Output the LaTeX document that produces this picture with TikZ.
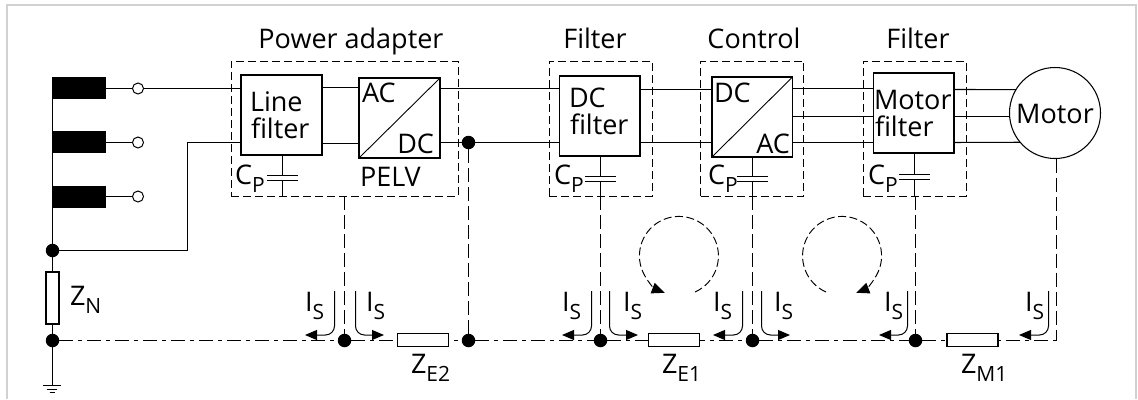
\documentclass[tikz,border=0pt]{standalone}
\usepackage{fontspec}
\setmainfont{Open Sans}
\usetikzlibrary{arrows.meta,calc}
\newcommand\Sb[1]{\raisebox{-8.5pt}{\fontsize{21}{21}\selectfont #1}}
\tikzset{
  wire/.style={line width=1.05pt,draw=black},
  thin wire/.style={line width=.9pt},
  boxn/.style={draw=black,line width=1.05pt,fill=white,inner sep=0pt,outer sep=0pt},
  group/.style={draw=black,line width=.95pt,dash pattern=on 8pt off 4pt},
  gndline/.style={draw=black,line width=1pt,dash pattern=on 14pt off 5pt on 4pt off 5pt},
  pe/.style={draw=black,line width=1pt,dash pattern=on 14pt off 5pt},
  loopline/.style={draw=black,line width=.95pt,dash pattern=on 8pt off 3.5pt},
  txt/.style={inner sep=0pt,outer sep=0pt,font=\fontsize{27}{27}\selectfont,text=black},
  dotn/.style={circle,fill=black,inner sep=0pt,minimum size=13.5pt},
  term/.style={circle,draw=black,fill=white,line width=1pt,inner sep=0pt,minimum size=11pt},
  bar/.style={fill=black,inner sep=0pt,minimum width=54pt,minimum height=22pt},
  res/.style={boxn,minimum width=51pt,minimum height=13pt},
  plate/.style={draw=black,line width=1.05pt},
  cur/.style={draw=black,line width=1pt,-{Triangle[length=12pt,width=10pt]},rounded corners=9pt},
  looparrow/.style={loopline,-{Triangle[length=13pt,width=11pt]}},
}
\begin{document}
\begin{tikzpicture}[x=1pt,y=-1pt]
\useasboundingbox (0,0) rectangle (1138,399);
\fill[white] (0,0) rectangle (1138,399);
\draw[black!18,line width=1.2pt] (7,399) -- (7,5) -- (1136,5) -- (1136,399);

% group frames
\node[group,draw,minimum width=227pt,minimum height=135pt,inner sep=0pt] (gpa) at (344.5,128.5) {};
\node[group,draw,minimum width=103pt,minimum height=135pt,inner sep=0pt] (gdc) at (600.5,128.5) {};
\node[group,draw,minimum width=103pt,minimum height=135pt,inner sep=0pt] (gct) at (752,128.5) {};
\node[group,draw,minimum width=103pt,minimum height=135pt,inner sep=0pt] (gmf) at (914.5,128.5) {};

% sources
\node[bar] (b1) at (79,88) {};
\node[bar] (b2) at (79,142) {};
\node[bar] (b3) at (79,196.5) {};
\node[term] (t1) at (138,88.5) {};
\node[term] (t2) at (138,142.5) {};
\node[term] (t3) at (138,196.5) {};
\coordinate (stemtop) at (52.5,77);
\node[dotn] (nstar) at (52.5,250.5) {};
\node[dotn] (ngn) at (52.5,340.5) {};
\node[res,minimum width=13pt,minimum height=52pt] (zn) at (52.5,298) {};
\coordinate (gnd) at (52.5,385);
\coordinate (corner) at (187.5,250.5);

% blocks
\node[boxn,minimum width=81pt,minimum height=80pt] (lf) at (281.5,115) {};
\node[boxn,minimum width=81pt,minimum height=80pt] (cv) at (399.5,118) {};
\node[boxn,minimum width=80.5pt,minimum height=80pt] (df) at (599.75,116) {};
\node[boxn,minimum width=80.5pt,minimum height=80pt] (ct) at (752.25,117) {};
\node[boxn,minimum width=80.5pt,minimum height=80pt] (mf) at (913.75,113) {};
\node[boxn,circle,minimum size=91pt] (mo) at (1055,113) {};
\draw[thin wire] (cv.south west) -- (cv.north east);
\draw[thin wire] (ct.south west) -- (ct.north east);

% wires
\draw[wire] (stemtop) -- (nstar) -- (zn.north);
\draw[wire] (zn.south) -- (ngn) -- (gnd);
\draw[wire] (b1.east |- t1) -- (t1);
\draw[wire] (b2.east |- t2) -- (t2);
\draw[wire] (b3.east |- t3) -- (t3);
\draw[wire] (t1) -- (lf.west |- t1);
\draw[wire] (nstar) -- (corner) |- (lf.west |- t2);
\draw[wire] (lf.east |- 0,87.5) -- (cv.west |- 0,87.5);
\draw[wire] (lf.east |- 0,143.5) -- (cv.west |- 0,143.5);
\draw[wire] (cv.east |- 0,88.5) -- (df.west |- 0,88.5);
\draw[wire] (cv.east |- 0,142.5) -- (df.west |- 0,142.5);
\draw[wire] (df.east |- 0,89.5) -- (ct.west |- 0,89.5);
\draw[wire] (df.east |- 0,142.5) -- (ct.west |- 0,142.5);
\draw[wire] (ct.east |- 0,88.5) -- (mf.west |- 0,88.5);
\draw[wire] (ct.east |- 0,116.5) -- (mf.west |- 0,116.5);
\draw[wire] (ct.east |- 0,142.5) -- (mf.west |- 0,142.5);
\draw[wire] (mf.east |- 0,89.5) -- (mo.149);
\draw[wire] (mf.east |- 0,116.5) -- (mo.west |- 0,116.5);
\draw[wire] (mf.east |- 0,142.5) -- (mo.220.8);

% capacitors
\coordinate (c1a) at (282.5,175.5); \coordinate (c1b) at (282.5,180.5);
\coordinate (c2a) at (600.5,176.5); \coordinate (c2b) at (600.5,181.5);
\coordinate (c3a) at (752.5,176.5); \coordinate (c3b) at (752.5,181.5);
\coordinate (c4a) at (914.5,174.5); \coordinate (c4b) at (914.5,179.5);
\draw[wire] (lf.south -| c1a) -- (c1a) (c1b) -- (282.5,196);
\draw[wire] (df.south -| c2a) -- (c2a) (c2b) -- (600.5,196);
\draw[wire] (ct.south -| c3a) -- (c3a) (c3b) -- (752.5,196);
\draw[wire] (mf.south -| c4a) -- (c4a) (c4b) -- (914.5,196);
\foreach \p in {c1a,c1b,c2a,c2b,c3a,c3b,c4a,c4b}
  \draw[plate] ($(\p)+(-15.5,0)$) -- ($(\p)+(15.5,0)$);

% ground rail and impedances
\node[dotn] (n1) at (344.5,340.5) {};
\node[dotn] (n2) at (468.5,340.5) {};
\node[dotn] (ndc) at (468.5,142.5) {};
\node[dotn] (n3) at (600.5,340.5) {};
\node[dotn] (n4) at (752.5,340.5) {};
\node[dotn] (n5) at (915.5,340.5) {};
\coordinate (n6) at (1056.5,340.5);
\draw[gndline] (ngn) -- (n1);
\draw[gndline] (n1) -- (n2);
\draw[gndline] (n2) -- (n3);
\draw[gndline] (n3) -- (n4);
\draw[gndline] (n4) -- (n5);
\draw[gndline] (n5) -- (n6);
\draw[pe] (344.5,196) -- (n1);
\draw[pe] (ndc) -- (n2);
\draw[pe] (600.5,196) -- (n3);
\draw[pe] (752.5,196) -- (n4);
\draw[pe] (915.5,196) -- (n5);
\draw[pe] (mo.south) ++(1.5,0) -- (n6);
\node[res] (ze2) at (423,340) {};
\node[res] (ze1) at (674,340) {};
\node[res] (zm1) at (972.5,340) {};

% ground symbol
\draw[wire] (43,385.5) -- (61,385.5) (47,389.5) -- (57,389.5) (49.5,392.5) -- (54.5,392.5);

% currents
\draw[cur] (334.5,291) -- (334.5,335) -- (305,335);
\draw[cur] (355.5,291) -- (355.5,335) -- (384,335);
\draw[cur] (591.5,291) -- (591.5,335) -- (562,335);
\draw[cur] (609.5,291) -- (609.5,335) -- (638,335);
\draw[cur] (742.5,291) -- (742.5,335) -- (713,335);
\draw[cur] (761.5,291) -- (761.5,335) -- (790,335);
\draw[cur] (907.5,291) -- (907.5,335) -- (879,335);
\draw[cur] (1048.5,291) -- (1048.5,335) -- (1019,335);

% circulating loops
\draw[looparrow] (695,292) arc[start angle=-66,end angle=249,radius=39.5pt];
\draw[looparrow] (826,292) arc[start angle=246,end angle=-69,radius=39.5pt];

% texts
\node[txt,anchor=base] (tpa) at (351,48) {Power adapter};
\node[txt,anchor=base] (tf1) at (595,48) {Filter};
\node[txt,anchor=base] (tcn) at (754,48) {Control};
\node[txt,anchor=base] (tf2) at (918,48) {Filter};
\node[txt,anchor=base west] (l1) at (250,111) {Line};
\node[txt,anchor=base west] (l2) at (251,138) {filter};
\node[txt,anchor=base west] (ac1) at (362,102) {AC};
\node[txt,anchor=base east] (dc1) at (434,153) {DC};
\node[txt,anchor=base west] (pelv) at (360,186) {PELV};
\node[txt,anchor=base west] (d1) at (569,107) {DC};
\node[txt,anchor=base west] (d2) at (570,134) {filter};
\node[txt,anchor=base west] (dc2) at (714,102) {DC};
\node[txt,anchor=base east] (ac2) at (790,153) {AC};
\node[txt,anchor=base west] (m1) at (874,109) {Motor};
\node[txt,anchor=base west] (m2) at (875,136) {filter};
\node[txt,anchor=base] (mt) at (1055,123) {Motor};
\node[txt,anchor=base west] (cp1) at (235,184) {C\Sb{P}};
\node[txt,anchor=base west] (cp2) at (554,184) {C\Sb{P}};
\node[txt,anchor=base west] (cp3) at (708,184) {C\Sb{P}};
\node[txt,anchor=base west] (cp4) at (868,184) {C\Sb{P}};
\node[txt,anchor=base west] (zNl) at (70,305) {Z\Sb{N}};
\node[txt,anchor=base west] (ze2l) at (411,373) {Z\Sb{E2}};
\node[txt,anchor=base west] (ze1l) at (662,373) {Z\Sb{E1}};
\node[txt,anchor=base west] (zm1l) at (961,373) {Z\Sb{M1}};
\foreach \nm/\x in {a/305,b/366,c/562,d/623,e/713,f/774,g/884,h/1025}
  \node[txt,anchor=base west] (is\nm) at (\x,311) {I\Sb{S}};
\end{tikzpicture}
\end{document}
